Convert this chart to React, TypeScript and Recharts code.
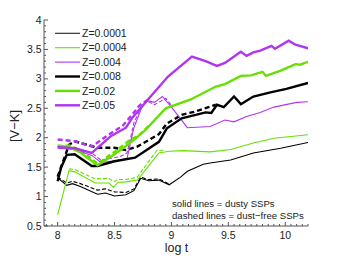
import React from 'react';
import { LineChart, Line, XAxis, YAxis, Label } from 'recharts';

// ---- data (log t, [V-K]) ----
const z0001SolidT = [8.0, 8.08, 8.13, 8.2, 8.35, 8.42, 8.5, 8.6, 8.67, 8.73, 8.8, 8.89, 8.98, 9.08, 9.14, 9.28, 9.34, 9.52, 9.72, 9.96, 10.2];
const z0001SolidV = [1.32, 1.19, 1.22, 1.17, 1.04, 1.06, 1.01, 1.03, 1.1, 1.31, 1.27, 1.28, 1.2, 1.33, 1.43, 1.55, 1.57, 1.62, 1.74, 1.82, 1.92];
const z0001DashT = [8.0, 8.08, 8.13, 8.2, 8.35, 8.42, 8.5, 8.6, 8.67, 8.73, 8.8, 8.89, 8.98];
const z0001DashV = [1.33, 1.23, 1.26, 1.22, 1.11, 1.13, 1.08, 1.07, 1.13, 1.33, 1.29, 1.3, 1.21];

const z0004SolidT = [8.0, 8.1, 8.15, 8.33, 8.45, 8.49, 8.53, 8.6, 8.7, 8.77, 8.89, 8.98, 9.1, 9.34, 9.52, 9.72, 9.9, 10.2];
const z0004SolidV = [0.69, 1.44, 1.42, 1.23, 1.23, 1.16, 1.24, 1.25, 1.28, 1.45, 1.74, 1.77, 1.78, 1.76, 1.8, 1.91, 1.99, 2.05];
const z0004DashT = [8.1, 8.15, 8.33, 8.45, 8.49, 8.53, 8.6, 8.7, 8.77, 8.87, 8.95];
const z0004DashV = [1.47, 1.46, 1.3, 1.31, 1.25, 1.29, 1.29, 1.33, 1.52, 1.78, 1.79];

const z004SolidT = [8.0, 8.15, 8.3, 8.38, 8.47, 8.55, 8.61, 8.67, 8.74, 8.79, 8.85, 8.92, 9.0, 9.14, 9.34, 9.47, 9.55, 9.66, 9.78, 9.9, 10.1, 10.2];
const z004SolidV = [1.82, 1.8, 1.7, 1.58, 1.6, 1.62, 1.65, 2.17, 2.52, 2.63, 2.6, 2.7, 2.52, 2.17, 2.19, 2.3, 2.27, 2.36, 2.43, 2.52, 2.6, 2.61];
const z004DashT = [8.0, 8.15, 8.3, 8.38, 8.47, 8.55, 8.61, 8.67, 8.74, 8.79, 8.85, 8.95, 9.0];
const z004DashV = [1.85, 1.83, 1.74, 1.62, 1.65, 1.68, 1.74, 2.25, 2.55, 2.62, 2.56, 2.67, 2.55];

const z008SolidT = [8.0, 8.03, 8.08, 8.15, 8.3, 8.35, 8.5, 8.68, 8.89, 8.96, 9.09, 9.3, 9.35, 9.4, 9.46, 9.55, 9.61, 9.72, 9.87, 10.01, 10.2];
const z008SolidV = [1.26, 1.49, 1.71, 1.72, 1.52, 1.52, 1.6, 1.66, 1.93, 2.16, 2.33, 2.43, 2.42, 2.56, 2.52, 2.7, 2.57, 2.7, 2.77, 2.83, 2.93];
const z008DashT = [8.0, 8.1, 8.15, 8.35, 8.5, 8.6, 8.7, 8.89, 8.96, 9.09, 9.2, 9.39];
const z008DashV = [1.34, 1.88, 1.94, 1.83, 1.83, 1.79, 1.85, 2.06, 2.24, 2.39, 2.44, 2.56];

const z02SolidT = [8.0, 8.1, 8.2, 8.35, 8.5, 8.65, 8.77, 8.95, 9.17, 9.39, 9.47, 9.61, 9.7, 9.8, 9.83, 9.96, 10.09, 10.13, 10.2];
const z02SolidV = [1.87, 1.84, 1.75, 1.53, 1.72, 1.93, 2.13, 2.5, 2.65, 2.87, 2.91, 3.05, 3.06, 3.12, 3.05, 3.14, 3.25, 3.24, 3.29];
const z02DashT = [8.0, 8.1, 8.2, 8.35, 8.5, 8.62, 8.72, 8.8];
const z02DashV = [1.85, 1.87, 1.79, 1.56, 1.76, 1.94, 2.05, 2.2];

const z05SolidT = [8.0, 8.15, 8.3, 8.47, 8.6, 8.66, 8.79, 8.97, 9.18, 9.3, 9.4, 9.47, 9.61, 9.66, 9.72, 9.78, 9.88, 9.91, 10.03, 10.09, 10.2];
const z05SolidV = [1.84, 1.82, 1.74, 2.03, 2.17, 2.35, 2.64, 3.04, 3.38, 3.3, 3.22, 3.27, 3.46, 3.39, 3.45, 3.48, 3.56, 3.51, 3.65, 3.58, 3.52];
const z05DashT = [8.0, 8.15, 8.3, 8.47, 8.57, 8.65, 8.72, 8.79];
const z05DashV = [1.97, 1.94, 1.85, 2.08, 2.2, 2.38, 2.55, 2.64];

const legendLabels = ['Z=0.0001', 'Z=0.0004', 'Z=0.004', 'Z=0.008', 'Z=0.02', 'Z=0.05'];
const xMajorTicks = [8, 8.5, 9, 9.5, 10];
const yMajorTicks = [0.5, 1, 1.5, 2, 2.5, 3, 3.5, 4];
const xDomain = [7.88, 10.2];
const yDomain = [0.5, 4];
const xTitle = 'log t';
const yTitle = '[V\u2212K]';
const note1 = 'solid lines = dusty SSPs';
const note2 = 'dashed lines = dust\u2212free SSPs';

// ---- styling ----
const FONT = '"Liberation Sans", Arial, Helvetica, sans-serif';
const AXIS = '#555';
const GREEN = '#66e000';
const PURPLE = '#b035f0';
const BLACK = '#000';
const THICK = 2.4;
const THIN = 1.1;

const toData = (t: number[], v: number[]) => t.map((x, i) => ({ t: x, v: v[i] }));

const buildMinor = (lo: number, hi: number, step: number) => {
  const out: number[] = [];
  const n = Math.round((hi - lo) / step);
  for (let i = 0; i <= n; i++) out.push(Math.round((lo + i * step) * 1000) / 1000);
  return out;
};
const xTicks = buildMinor(7.9, 10.2, 0.05);
const yTicks = buildMinor(0.5, 4, 0.1);

const isMajor = (v: number) => Math.abs(v * 2 - Math.round(v * 2)) < 1e-6;
const fmt = (v: number) => String(Math.round(v * 10) / 10);

const BottomTick = (p: any) => {
  const { x, y, payload } = p;
  const major = isMajor(payload.value);
  return (
    <g>
      <line x1={x} x2={x} y1={y} y2={y - (major ? 4 : 2)} stroke={AXIS} strokeWidth={1} />
      {major && xMajorTicks.includes(payload.value) && (
        <text x={x} y={y + 13.3} textAnchor="middle" fontSize={10.5} fontFamily={FONT} fill="#222">
          {fmt(payload.value)}
        </text>
      )}
    </g>
  );
};
const TopTick = (p: any) => {
  const { x, y, payload } = p;
  const major = isMajor(payload.value);
  return <line x1={x} x2={x} y1={y} y2={y + (major ? 4 : 2)} stroke={AXIS} strokeWidth={1} />;
};
const LeftTick = (p: any) => {
  const { x, y, payload } = p;
  const major = isMajor(payload.value);
  return (
    <g>
      <line x1={x} x2={x + (major ? 4 : 2)} y1={y} y2={y} stroke={AXIS} strokeWidth={1} />
      {major && yMajorTicks.includes(payload.value) && (
        <text x={x - 2.5} y={y + 3.6} textAnchor="end" fontSize={10.5} fontFamily={FONT} fill="#222">
          {fmt(payload.value)}
        </text>
      )}
    </g>
  );
};
const RightTick = (p: any) => {
  const { x, y, payload } = p;
  const major = isMajor(payload.value);
  return <line x1={x} x2={x - (major ? 4 : 2)} y1={y} y2={y} stroke={AXIS} strokeWidth={1} />;
};

const legendStyles = [
  { stroke: '#222', w: THIN },
  { stroke: GREEN, w: THIN },
  { stroke: PURPLE, w: THIN },
  { stroke: BLACK, w: THICK },
  { stroke: GREEN, w: THICK },
  { stroke: PURPLE, w: THICK },
];

const Overlay = () => (
  <g>
    {legendLabels.map((lab, i) => (
      <g key={lab}>
        <line x1={55} x2={80} y1={33.3 + 14.4 * i} y2={33.3 + 14.4 * i} stroke={legendStyles[i].stroke} strokeWidth={legendStyles[i].w} />
        <text x={82} y={36.9 + 14.4 * i} fontSize={10.5} fontFamily={FONT} fill="#222">{lab}</text>
      </g>
    ))}
    <text x={172} y={207} fontSize={9.6} fontFamily={FONT} fill="#222">{note1}</text>
    <text x={172} y={219} fontSize={9.6} fontFamily={FONT} fill="#222">{note2}</text>
    <text x={176.5} y={251.5} textAnchor="middle" fontSize={12.5} fontFamily={FONT} fill="#222">{xTitle}</text>
    <text transform="translate(18.5,126) rotate(-90)" textAnchor="middle" fontSize={13} fontFamily={FONT} fill="#222">{yTitle}</text>
  </g>
);

type S = { t: number[]; v: number[]; c: string; w: number; dash?: string };
const series: S[] = [
  { t: z0001DashT, v: z0001DashV, c: BLACK, w: THIN, dash: '4 2' },
  { t: z0004DashT, v: z0004DashV, c: GREEN, w: THIN, dash: '4 2' },
  { t: z004DashT, v: z004DashV, c: PURPLE, w: THIN, dash: '4 2' },
  { t: z008DashT, v: z008DashV, c: BLACK, w: THICK, dash: '5 3' },
  { t: z02DashT, v: z02DashV, c: GREEN, w: THICK, dash: '5 3' },
  { t: z05DashT, v: z05DashV, c: PURPLE, w: THICK, dash: '5 3' },
  { t: z0001SolidT, v: z0001SolidV, c: BLACK, w: THIN },
  { t: z0004SolidT, v: z0004SolidV, c: GREEN, w: THIN },
  { t: z004SolidT, v: z004SolidV, c: PURPLE, w: THIN },
  { t: z008SolidT, v: z008SolidV, c: BLACK, w: THICK },
  { t: z02SolidT, v: z02SolidV, c: GREEN, w: THICK },
  { t: z05SolidT, v: z05SolidV, c: PURPLE, w: THICK },
];

export default function App() {
  return (
    <div style={{ position: 'absolute', left: 0, top: 0, width: 341, height: 256, background: '#fff' }}>
      <LineChart width={341} height={256} margin={{ top: 20, right: 33, left: 0, bottom: 0 }}>
        <XAxis xAxisId="b" type="number" dataKey="t" domain={xDomain} allowDataOverflow ticks={xTicks} interval={0}
          height={30} orientation="bottom" tickLine={false} tickSize={0} tickMargin={0} tick={BottomTick}
          axisLine={{ stroke: AXIS, strokeWidth: 1 }}>
          <Label content={() => <Overlay />} />
        </XAxis>
        <XAxis xAxisId="t" type="number" dataKey="t" domain={xDomain} allowDataOverflow ticks={xTicks} interval={0}
          height={0} orientation="top" tickLine={false} tickSize={0} tickMargin={0} tick={TopTick}
          axisLine={{ stroke: AXIS, strokeWidth: 1 }} />
        <YAxis yAxisId="l" type="number" dataKey="v" domain={yDomain} allowDataOverflow ticks={yTicks} interval={0}
          width={44} orientation="left" tickLine={false} tickSize={0} tickMargin={0} tick={LeftTick}
          axisLine={{ stroke: AXIS, strokeWidth: 1 }} />
        <YAxis yAxisId="r" type="number" dataKey="v" domain={yDomain} allowDataOverflow ticks={yTicks} interval={0}
          width={0} orientation="right" tickLine={false} tickSize={0} tickMargin={0} tick={RightTick}
          axisLine={{ stroke: AXIS, strokeWidth: 1 }} />
        {series.map((s, i) => (
          <Line key={i} xAxisId="b" yAxisId="l" data={toData(s.t, s.v)} dataKey="v" type="linear" dot={false}
            activeDot={false} stroke={s.c} strokeWidth={s.w} strokeDasharray={s.dash} isAnimationActive={false} />
        ))}
      </LineChart>
    </div>
  );
}
